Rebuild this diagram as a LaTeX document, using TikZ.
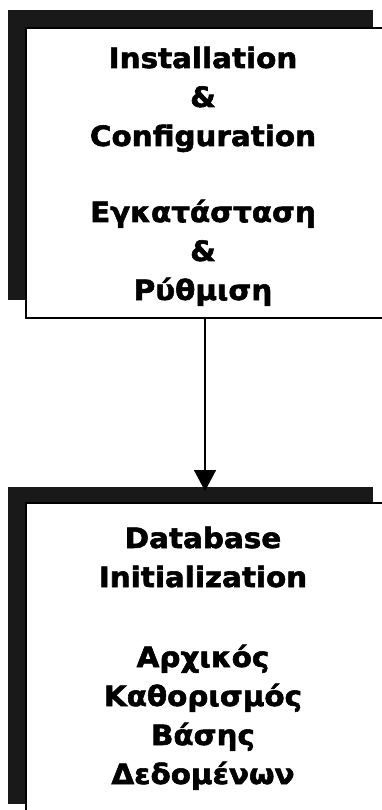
\documentclass[tikz,border=0pt]{standalone}
\usepackage{fontspec}
\setmainfont[BoldFeatures={FakeStretch=1.05,FakeBold=2}]{DejaVu Sans}
\usetikzlibrary{arrows.meta}
\begin{document}
\begin{tikzpicture}[x=1pt,y=-1pt,
  shade box/.style={fill=black!90, draw=none, inner sep=0pt,
    minimum width=365pt, anchor=north west},
  panel/.style={fill=white, draw=black, line width=1.8pt, inner sep=0pt,
    minimum width=365pt, anchor=north west},
  caption/.style={font=\bfseries\fontsize{28}{39}\selectfont,
    text width=320pt, align=center, inner sep=0pt, anchor=base},
  flow/.style={line width=1.6pt, -{Triangle[width=22pt,length=21pt]}}]
\useasboundingbox (0,0) rectangle (382,810);

% first step: shadow, panel, text
\node[shade box, minimum height=290pt] (s1) at (8,10) {};
\node[panel, minimum height=290pt] (b1) at (25,27) {};
\node[caption] (e1) at (203,68) {Installation\\\&\\Configuration};
\node[caption] (g1) at (203,222) {Εγκατάσταση\\\&\\Ρύθμιση};

% second step
\node[shade box, minimum height=317pt] (s2) at (8,487) {};
\node[panel, minimum height=317pt] (b2) at (25,502) {};
\node[caption] (e2) at (203,548) {Database\\Initialization};
\node[caption] (g2) at (203,667) {Αρχικός\\Καθορισμός\\Βάσης\\Δεδομένων};

% connector
\coordinate (tip) at (205,491);
\draw[flow] (b1.south -| tip) -- (tip);
\end{tikzpicture}
\end{document}
